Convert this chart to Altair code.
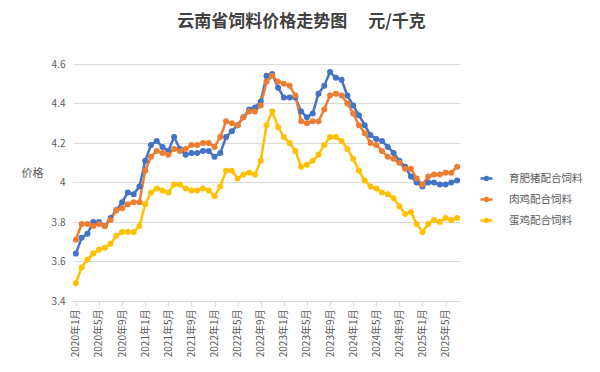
import altair as alt
import pandas as pd

months = [f"{y}年{m}月" for y in range(2020, 2026) for m in range(1, 13)][:67]

pig = [3.64, 3.72, 3.74, 3.80, 3.80, 3.78, 3.82, 3.86, 3.90, 3.95, 3.94, 3.98,
       4.11, 4.19, 4.21, 4.18, 4.16, 4.23, 4.17, 4.14, 4.15, 4.15, 4.16, 4.16,
       4.13, 4.15, 4.23, 4.26, 4.29, 4.33, 4.37, 4.38, 4.41, 4.54, 4.55, 4.48,
       4.43, 4.43, 4.43, 4.36, 4.33, 4.35, 4.45, 4.49, 4.56, 4.53, 4.52, 4.44,
       4.39, 4.34, 4.29, 4.24, 4.22, 4.21, 4.18, 4.15, 4.11, 4.08, 4.03, 4.00,
       3.98, 4.00, 4.00, 3.99, 3.99, 4.00, 4.01]
broiler = [3.71, 3.79, 3.79, 3.78, 3.79, 3.78, 3.81, 3.86, 3.87, 3.89, 3.90, 3.90,
           4.06, 4.13, 4.16, 4.15, 4.14, 4.17, 4.16, 4.17, 4.19, 4.19, 4.20, 4.20,
           4.18, 4.23, 4.31, 4.30, 4.29, 4.33, 4.36, 4.36, 4.39, 4.51, 4.54, 4.51,
           4.50, 4.49, 4.44, 4.31, 4.30, 4.31, 4.31, 4.37, 4.44, 4.45, 4.44, 4.40,
           4.35, 4.29, 4.25, 4.20, 4.19, 4.16, 4.13, 4.12, 4.10, 4.07, 4.07, 4.02,
           3.99, 4.03, 4.04, 4.04, 4.05, 4.05, 4.08]
layer = [3.49, 3.57, 3.61, 3.64, 3.66, 3.67, 3.69, 3.73, 3.75, 3.75, 3.75, 3.78,
         3.89, 3.95, 3.97, 3.96, 3.95, 3.99, 3.99, 3.97, 3.96, 3.96, 3.97, 3.96,
         3.93, 3.98, 4.06, 4.06, 4.02, 4.04, 4.05, 4.04, 4.11, 4.29, 4.36, 4.28,
         4.23, 4.20, 4.16, 4.08, 4.09, 4.11, 4.14, 4.19, 4.23, 4.23, 4.21, 4.17,
         4.12, 4.06, 4.01, 3.98, 3.97, 3.95, 3.94, 3.92, 3.88, 3.84, 3.85, 3.79,
         3.75, 3.79, 3.81, 3.80, 3.82, 3.81, 3.82]

series_names = ["育肥猪配合饲料", "肉鸡配合饲料", "蛋鸡配合饲料"]
series_colors = ["#4472C4", "#ED7D31", "#FFC000"]
y_ticks = [3.4, 3.6, 3.8, 4.0, 4.2, 4.4, 4.6]
x_ticks = months[::4]

rows = []
for si, (name, vals) in enumerate(zip(series_names, [pig, broiler, layer])):
    for mi, (m, v) in enumerate(zip(months, vals)):
        rows.append({"月份": m, "价格": v, "品种": name, "序": si})
df = pd.DataFrame(rows)

FONT = "Noto Sans CJK SC"
legend_symbol = ("M-0.6,0L0.6,0"
                 "M0.15,0A0.15,0.15 0 1,1 -0.15,0A0.15,0.15 0 1,1 0.15,0"
                 "M0.08,0A0.08,0.08 0 1,1 -0.08,0A0.08,0.08 0 1,1 0.08,0")

chart = alt.Chart(df).mark_line(
    strokeWidth=2.5,
    point=alt.OverlayMarkDef(filled=True, size=36, opacity=1),
).encode(
    x=alt.X("月份:N", sort=months,
            scale=alt.Scale(type="point", padding=0.5),
            axis=alt.Axis(values=x_ticks, labelAngle=-90, title=None,
                          labelFontSize=10, labelColor="#595959", labelFont=FONT,
                          domainColor="#d9d9d9", tickColor="#d9d9d9", tickSize=5,
                          labelPadding=3, grid=False)),
    y=alt.Y("价格:Q", scale=alt.Scale(domain=[3.4, 4.6], nice=False, zero=False),
            axis=alt.Axis(values=y_ticks, format="~g", title="价格", titleAngle=0,
                          titleX=-41, titleY=114, titleFontWeight="normal",
                          titleFontSize=11, titleColor="#595959", titleFont=FONT,
                          labelFontSize=10, labelColor="#595959", labelFont=FONT,
                          domain=False, ticks=False, labelPadding=8,
                          gridColor="#d9d9d9")),
    color=alt.Color("品种:N", sort=series_names,
                    scale=alt.Scale(domain=series_names, range=series_colors),
                    legend=alt.Legend(title=None, orient="none", legendX=402, legendY=103,
                                      symbolType=legend_symbol, symbolSize=400,
                                      symbolStrokeWidth=2.5, rowPadding=3,
                                      labelFontSize=10.5, labelColor="#595959",
                                      labelFont=FONT, labelOffset=11)),
    order=alt.Order("序:Q"),
).properties(
    width=387, height=237,
    padding={"left": 65, "top": 56, "right": 130, "bottom": 70},
    autosize=alt.AutoSizeParams(type="none"),
    title=alt.TitleParams("云南省饲料价格走势图\u3000\u00a0元/千克", font=FONT,
                          fontSize=17, fontWeight="bold", color="#404040",
                          anchor="middle", dx=35, offset=28),
).configure_view(stroke=None)

chart.save("out.html", embed_options={"renderer": "svg", "actions": False})
